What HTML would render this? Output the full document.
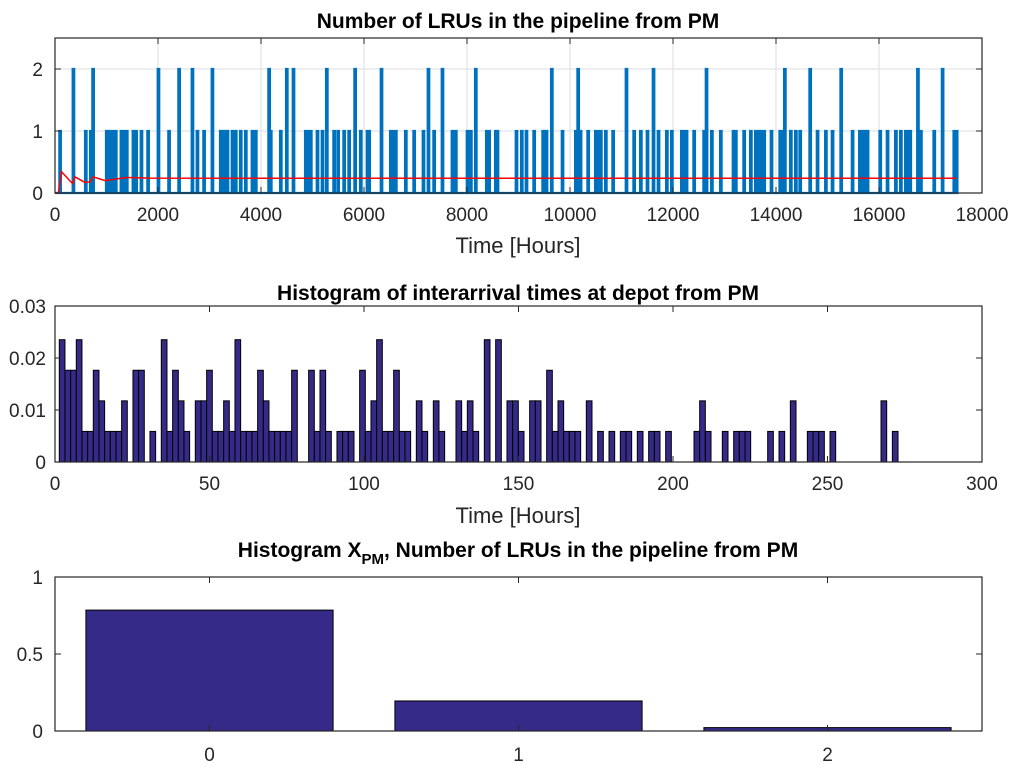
<!DOCTYPE html>
<html><head><meta charset="utf-8"><style>
html,body{margin:0;padding:0;background:#fff;}
svg{display:block;font-family:"Liberation Sans",Arial,sans-serif;}
</style></head><body>
<svg id="fig" width="1024" height="774" viewBox="0 0 1024 774">
<g id="p1"></g>
<g id="p2"></g>
<g id="p3"></g>
</svg>
<script>
// ---- Plot 1 data ----
const pulseStart=[84,343,583,680,725,990,1036,1100,1165,1275,1327,1379,1508,1560,1664,1793,1994,2200,2395,2654,2751,2880,3042,3204,3269,3334,3431,3495,3592,3690,3819,3884,4143,4175,4370,4486,4616,4855,4900,4952,5082,5179,5263,5405,5483,5600,5697,5813,5923,6053,6085,6325,6506,6551,6603,6797,6959,7140,7237,7347,7509,7703,7768,7995,8060,8156,8370,8415,8545,8577,8946,9049,9140,9289,9464,9529,9632,9840,10099,10144,10190,10338,10487,10532,10584,10681,10823,11082,11231,11361,11490,11607,11704,11866,11963,12157,12202,12248,12396,12590,12636,12740,12914,13160,13205,13367,13497,13594,13640,13691,13756,13898,14067,14112,14157,14273,14371,14455,14649,14792,14954,15083,15251,15472,15614,15666,15711,15763,16009,16151,16313,16410,16507,16553,16592,16741,16799,17058,17220,17447,17493];
const pulseLevel=[1,2,1,1,2,1,1,1,1,1,1,1,1,1,1,1,2,1,2,2,1,1,2,1,1,1,1,1,1,1,1,1,2,1,1,2,2,1,1,1,1,1,2,1,1,1,1,2,1,1,1,2,1,1,1,1,1,1,2,1,2,1,1,1,1,2,1,1,1,1,1,1,1,1,1,1,2,1,1,2,1,1,1,1,1,1,1,2,1,1,1,2,1,1,1,1,1,1,1,1,2,1,1,1,1,1,1,1,1,1,1,1,1,1,2,1,1,1,2,1,1,1,2,1,1,1,1,1,1,1,1,1,1,1,1,2,1,1,2,1,1];
const pulseWidth=30;
const meanT=[0,65,129,343,388,583,680,744,971,1392,1845,4000,8000,12000,17500];
const meanV=[0,0,0.34,0.15,0.26,0.17,0.18,0.26,0.2,0.25,0.24,0.238,0.237,0.237,0.237];
const x1Ticks=[0,2000,4000,6000,8000,10000,12000,14000,16000,18000];
const y1Ticks=[0,1,2];
// ---- Plot 2 data ----
const binStart=1.39, binWidth=1.834;
const binCounts=[4,3,3,4,1,1,3,2,1,1,1,2,0,3,3,0,1,0,4,1,3,2,1,0,2,2,3,1,1,2,1,4,1,1,1,3,2,1,1,1,1,3,0,0,3,1,3,1,0,1,1,1,0,3,1,2,4,1,1,3,1,1,0,2,1,0,2,1,0,0,2,1,2,1,0,4,0,4,0,2,2,1,0,2,2,0,3,1,2,1,1,1,0,2,0,1,0,1,0,1,1,0,1,0,1,1,0,1,0,0,0,0,1,2,1,0,0,1,0,1,1,1,0,0,0,1,0,1,0,2,0,0,1,1,1,0,1,0,0,0,0,0,0,0,0,2,0,1];
const countUnit=0.00588;
const x2Ticks=[0,50,100,150,200,250,300];
const y2Ticks=[0,0.01,0.02,0.03];
const y2Labels=["0","0.01","0.02","0.03"];
// ---- Plot 3 data ----
const cats=[0,1,2];
const catVals=[0.785,0.195,0.022];
const y3Ticks=[0,0.5,1];
const y3Labels=["0","0.5","1"];

const NS="http://www.w3.org/2000/svg";
function mk(parent,tag,attrs,text){const e=document.createElementNS(NS,tag);for(const k in attrs)e.setAttribute(k,attrs[k]);if(text!==undefined)e.textContent=text;parent.appendChild(e);return e;}
const L=55,R=982;
const TF=19;

function axesBox(g,top,bot,name){
  const b=mk(g,'rect',{x:L,y:top,width:R-L,height:bot-top,fill:'none',stroke:'#262626','stroke-width':1.2});
  
  
}
function tickLabel(g,x,y,t,anchor,name){
  const e=mk(g,'text',{x:x,y:y,'font-size':TF,fill:'#262626','text-anchor':anchor},t);
  
  
}
function title(g,x,y,t,name){
  const e=mk(g,'text',{x:x,y:y,'font-size':21,'font-weight':'bold',fill:'#000','text-anchor':'middle'},t);
  
  
  return e;
}

// ===== Plot 1 =====
(function(){
  const g=document.getElementById('p1');const top=38,bot=193;
  const xs=v=>L+v/18000*(R-L);const ys=v=>bot-v/2.5*(bot-top);
  x1Ticks.forEach(t=>{const l=mk(g,'line',{x1:xs(t),x2:xs(t),y1:top,y2:bot,stroke:'#dedede'});});
  y1Ticks.forEach(t=>{const l=mk(g,'line',{x1:L,x2:R,y1:ys(t),y2:ys(t),stroke:'#dedede'});});
  let d='M'+xs(0)+','+ys(0);
  pulseStart.forEach((s,i)=>{const a=xs(s),b=xs(s+pulseWidth),h=ys(pulseLevel[i]);d+=' L'+a+','+ys(0)+' L'+a+','+h+' L'+b+','+h+' L'+b+','+ys(0);});
  d+=' L'+xs(17500)+','+ys(0);
  const p=mk(g,'path',{d:d,fill:'none',stroke:'#0072BD','stroke-width':2.2});
  
  
  const pts=meanT.map((t,i)=>xs(t)+','+ys(meanV[i])).join(' ');
  const m=mk(g,'polyline',{points:pts,fill:'none',stroke:'#FF0000','stroke-width':1.5});
  
  
  axesBox(g,top,bot,'plot1-axes-box');
  x1Ticks.forEach(t=>{mk(g,'line',{x1:xs(t),x2:xs(t),y1:bot,y2:bot-6,stroke:'#262626'});mk(g,'line',{x1:xs(t),x2:xs(t),y1:top,y2:top+6,stroke:'#262626'});tickLabel(g,xs(t),bot+28,String(t),'middle','x-tick-label');});
  y1Ticks.forEach(t=>{mk(g,'line',{x1:L,x2:L+6,y1:ys(t),y2:ys(t),stroke:'#262626'});mk(g,'line',{x1:R,x2:R-6,y1:ys(t),y2:ys(t),stroke:'#262626'});tickLabel(g,L-12,ys(t)+7,String(t),'end','y-tick-label');});
  title(g,518,28,'Number of LRUs in the pipeline from PM','plot1-title');
  const xl=mk(g,'text',{x:518,y:253,'font-size':22,fill:'#262626','text-anchor':'middle'},'Time [Hours]');
  
})();

// ===== Plot 2 =====
(function(){
  const g=document.getElementById('p2');const top=306,bot=462;
  const xs=v=>L+v/300*(R-L);const ys=v=>bot-v/0.03*(bot-top);
  binCounts.forEach((c,i)=>{if(c<=0)return;const x0=xs(binStart+i*binWidth),x1=xs(binStart+(i+1)*binWidth);const v=c*countUnit;
    const r=mk(g,'rect',{x:x0,y:ys(v),width:x1-x0,height:bot-ys(v),fill:'#352A87',stroke:'#000','stroke-width':1});
    
    });
  axesBox(g,top,bot,'plot2-axes-box');
  x2Ticks.forEach(t=>{mk(g,'line',{x1:xs(t),x2:xs(t),y1:bot,y2:bot-6,stroke:'#262626'});mk(g,'line',{x1:xs(t),x2:xs(t),y1:top,y2:top+6,stroke:'#262626'});tickLabel(g,xs(t),bot+28,String(t),'middle','x-tick-label');});
  y2Ticks.forEach((t,i)=>{mk(g,'line',{x1:L,x2:L+6,y1:ys(t),y2:ys(t),stroke:'#262626'});mk(g,'line',{x1:R,x2:R-6,y1:ys(t),y2:ys(t),stroke:'#262626'});tickLabel(g,L-9,ys(t)+7,y2Labels[i],'end','y-tick-label');});
  title(g,518,300,'Histogram of interarrival times at depot from PM','plot2-title');
  const xl=mk(g,'text',{x:518,y:523,'font-size':22,fill:'#262626','text-anchor':'middle'},'Time [Hours]');
  
})();

// ===== Plot 3 =====
(function(){
  const g=document.getElementById('p3');const top=577,bot=731;
  const xs=v=>L+(v+0.5)/3*(R-L);const ys=v=>bot-v*(bot-top);
  const bw=0.8*(R-L)/3;
  cats.forEach((c,i)=>{const r=mk(g,'rect',{x:xs(c)-bw/2,y:ys(catVals[i]),width:bw,height:bot-ys(catVals[i]),fill:'#352A87',stroke:'#000','stroke-width':1});
    
    });
  axesBox(g,top,bot,'plot3-axes-box');
  cats.forEach(t=>{mk(g,'line',{x1:xs(t),x2:xs(t),y1:bot,y2:bot-6,stroke:'#262626'});mk(g,'line',{x1:xs(t),x2:xs(t),y1:top,y2:top+6,stroke:'#262626'});tickLabel(g,xs(t),bot+30,String(t),'middle','x-tick-label');});
  y3Ticks.forEach((t,i)=>{mk(g,'line',{x1:L,x2:L+6,y1:ys(t),y2:ys(t),stroke:'#262626'});mk(g,'line',{x1:R,x2:R-6,y1:ys(t),y2:ys(t),stroke:'#262626'});tickLabel(g,L-12,ys(t)+7,y3Labels[i],'end','y-tick-label');});
  const t=title(g,518,557,'','plot3-title');
  t.appendChild(document.createTextNode('Histogram X'));
  const s=document.createElementNS(NS,'tspan');s.setAttribute('font-size','15');s.setAttribute('dy','7');s.textContent='PM';t.appendChild(s);
  const s2=document.createElementNS(NS,'tspan');s2.setAttribute('dy','-7');s2.textContent=', Number of LRUs in the pipeline from PM';t.appendChild(s2);
})();
</script>
</body></html>
